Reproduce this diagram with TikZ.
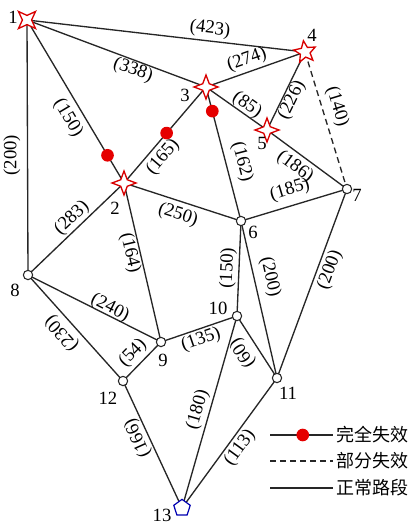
\documentclass[tikz,border=0pt]{standalone}
\usepackage{fontspec}
\setmainfont{Liberation Serif}
\newfontfamily\cjk{Noto Sans CJK SC}
\usetikzlibrary{shapes.geometric}
\begin{document}
\begin{tikzpicture}[x=0.75pt,y=-0.75pt,
  road/.style={line width=1pt, draw=black!85},
  partial/.style={road, dash pattern=on 4.5pt off 3pt},
  lbl/.style={inner sep=0pt, font=\fontsize{14}{14}\selectfont},
  num/.style={inner sep=0pt, font=\fontsize{14}{14}\selectfont},
  plain/.style={circle, draw=black!85, fill=white, line width=0.8pt, minimum size=7pt, inner sep=0pt},
  star4/.style={star, star points=4, star point ratio=2.6, draw=red!85!black, fill=white, line width=1pt, minimum size=18pt, inner sep=0pt},
  star5/.style={star, star points=5, star point ratio=2.2, draw=red!85!black, fill=white, line width=1pt, minimum size=17pt, inner sep=0pt},
  dot/.style={circle, fill=red!90!black, minimum size=9.5pt, inner sep=0pt},
  pent/.style={regular polygon, regular polygon sides=5, draw=blue!70!black, fill=white, line width=0.9pt, minimum size=13pt, inner sep=0pt},
  legtext/.style={anchor=west, inner sep=0pt, font=\cjk\fontsize{13.5}{14}\selectfont}]
\useasboundingbox (0,0) rectangle (412,526);
% node positions
\coordinate (n1) at (27,20);
\coordinate (n2) at (124,183);
\coordinate (n3) at (206,87);
\coordinate (n4) at (305,52);
\coordinate (n5) at (267,130);
\coordinate (n6) at (241,221);
\coordinate (n7) at (347,189);
\coordinate (n8) at (28,275);
\coordinate (n9) at (161,342);
\coordinate (n10) at (237,316);
\coordinate (n11) at (277,378);
\coordinate (n12) at (123,381);
\coordinate (n13) at (182,508);
% edges
\draw[road] (n1) -- (n4);
\draw[road] (n1) -- (n3);
\draw[road] (n1) -- node[dot, pos=0.83] (d1) {} (n2);
\draw[road] (n1) -- (n8);
\draw[road] (n3) -- (n4);
\draw[road] (n3) -- (n5);
\draw[road] (n4) -- (n5);
\draw[partial] (n4) -- (n7);
\draw[road] (n2) -- node[dot, pos=0.52] (d2) {} (n3);
\draw[road] (n3) -- node[dot, pos=0.18] (d3) {} (n6);
\draw[road] (n5) -- (n7);
\draw[road] (n2) -- (n6);
\draw[road] (n6) -- (n7);
\draw[road] (n2) -- (n8);
\draw[road] (n2) -- (n9);
\draw[road] (n8) -- (n9);
\draw[road] (n8) -- (n12);
\draw[road] (n9) -- (n12);
\draw[road] (n9) -- (n10);
\draw[road] (n6) -- (n10);
\draw[road] (n6) -- (n11);
\draw[road] (n7) -- (n11);
\draw[road] (n10) -- (n11);
\draw[road] (n10) -- (n13);
\draw[road] (n12) -- (n13);
\draw[road] (n11) -- (n13);
% node markers
\node[star4, rotate=45] (s1) at (n1) {};
\node[star4] (s2) at (n2) {};
\node[star4] (s3) at (n3) {};
\node[star5, rotate=8] (s4) at (n4) {};
\node[star4] (s5) at (n5) {};
\node[plain] (s6) at (n6) {};
\node[plain] (s7) at (n7) {};
\node[plain] (s8) at (n8) {};
\node[plain] (s9) at (n9) {};
\node[plain] (s10) at (n10) {};
\node[plain] (s11) at (n11) {};
\node[plain] (s12) at (n12) {};
\node[pent] (s13) at (n13) {};
% node numbers
\node[num] (t1) at (13,17) {1};
\node[num] (t2) at (115,208) {2};
\node[num] (t3) at (185,95) {3};
\node[num] (t4) at (312,35) {4};
\node[num] (t5) at (262,143) {5};
\node[num] (t6) at (253,232) {6};
\node[num] (t7) at (357,195) {7};
\node[num] (t8) at (15,290) {8};
\node[num] (t9) at (163,360) {9};
\node[num] (t10) at (218,308) {10};
\node[num] (t11) at (288,393) {11};
\node[num] (t12) at (108,398) {12};
\node[num] (t13) at (162,515) {13};
% edge labels
\node[lbl, rotate=-6.6] (l14) at (210,29) {(423)};
\node[lbl, rotate=-20.5] (l13) at (133,70) {(338)};
\node[lbl, rotate=-59.2] (l12) at (68,118) {(150)};
\node[lbl, rotate=90] (l18) at (12,155) {(200)};
\node[lbl, rotate=49.5] (l23) at (163,157) {(165)};
\node[lbl, rotate=19.5] (l34) at (247,60) {(274)};
\node[lbl, rotate=-35.2] (l35) at (247,105) {(85)};
\node[lbl, rotate=64] (l45) at (292,100) {(226)};
\node[lbl, rotate=-73] (l47) at (337,107) {(140)};
\node[lbl, rotate=-75.4] (l36) at (242,162) {(162)};
\node[lbl, rotate=-36.4] (l57) at (295,167) {(186)};
\node[lbl, rotate=16.8] (l67) at (290,190) {(185)};
\node[lbl, rotate=-18] (l26) at (178,215) {(250)};
\node[lbl, rotate=43.8] (l28) at (72,218) {(283)};
\node[lbl, rotate=-76.9] (l29) at (130,253) {(164)};
\node[lbl, rotate=-26.7] (l89) at (110,308) {(240)};
\node[lbl, rotate=131.9] (l812) at (62,333) {(230)};
\node[lbl, rotate=45.7] (l912) at (133,353) {(54)};
\node[lbl, rotate=18.9] (l910) at (201,340) {(135)};
\node[lbl, rotate=87.6] (l610) at (228,268) {(150)};
\node[lbl, rotate=-77.1] (l611) at (270,277) {(200)};
\node[lbl, rotate=69.7] (l711) at (330,270) {(200)};
\node[lbl, rotate=122.8] (l1011) at (243,353) {(60)};
\node[lbl, rotate=73.7] (l1013) at (198,410) {(180)};
\node[lbl, rotate=114.4] (l1213) at (138,438) {(166)};
\node[lbl, rotate=53.8] (l1113) at (240,448) {(113)};
% legend
\coordinate (ga) at (270,435);
\coordinate (gb) at (333,435);
\coordinate (ha) at (270,461);
\coordinate (hb) at (333,461);
\coordinate (ia) at (270,488);
\coordinate (ib) at (333,488);
\draw[road] (ga) -- node[dot, pos=0.52] (gd) {} (gb);
\draw[partial] (ha) -- (hb);
\draw[road] (ia) -- (ib);
\node[legtext] (g1) at (336,435) {完全失效};
\node[legtext] (g2) at (336,461) {部分失效};
\node[legtext] (g3) at (336,488) {正常路段};
\end{tikzpicture}
\end{document}
